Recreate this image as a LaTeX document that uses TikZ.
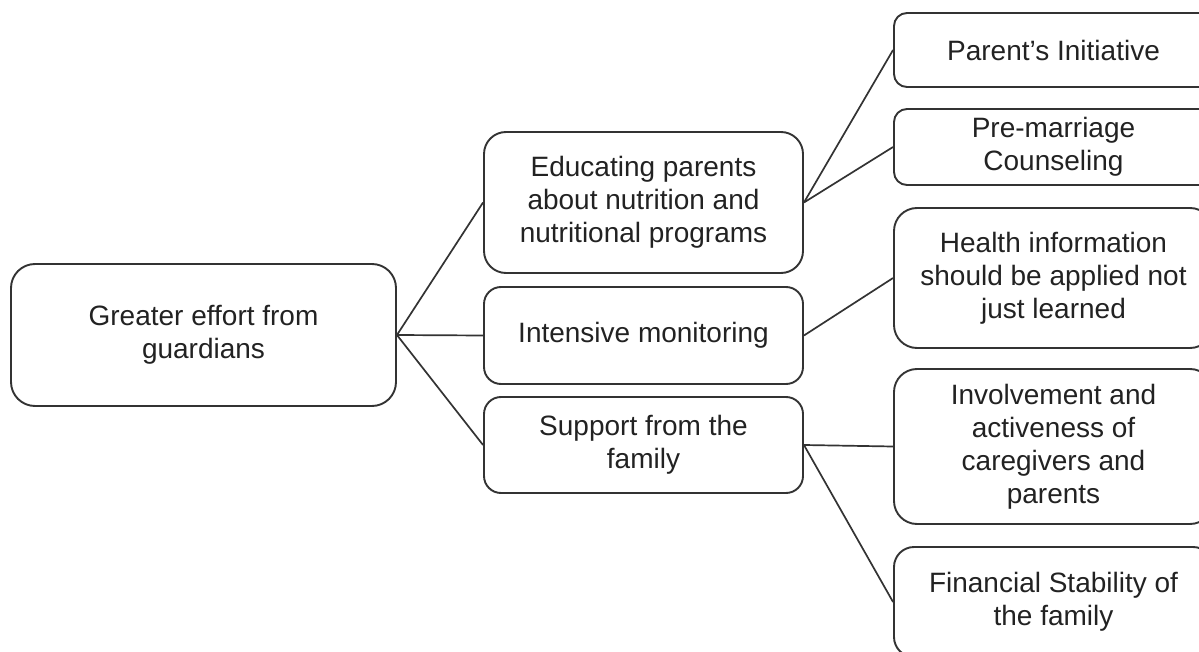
\documentclass[tikz,border=0pt]{standalone}
\usepackage{fontspec}
\setmainfont{Liberation Sans}
\definecolor{edgecol}{HTML}{333333}
\definecolor{textcol}{HTML}{222222}
\begin{document}
\begin{tikzpicture}[x=1pt,y=-1pt,
  box/.style={draw=edgecol, line width=1.9pt, align=center, inner sep=0pt,
    text=textcol, font=\fontsize{28}{33}\selectfont},
  link/.style={draw=edgecol, line width=1.7pt}]
  \useasboundingbox (0,0) rectangle (1199,652);

  % root
  \node[box, rounded corners=24pt, minimum width=385pt, minimum height=142pt]
    (root) at (203.5,335) {Greater effort from\\guardians};

  % middle column
  \node[box, rounded corners=22pt, minimum width=319pt, minimum height=141pt]
    (m1) at (643.5,202.5) {Educating parents\\about nutrition and\\nutritional programs};
  \node[box, rounded corners=17pt, minimum width=319pt, minimum height=97pt]
    (m2) at (643.5,335.5) {Intensive monitoring};
  \node[box, rounded corners=17pt, minimum width=319pt, minimum height=96pt]
    (m3) at (643.5,445) {Support from the\\family};

  % right column
  \node[box, rounded corners=13pt, minimum width=319pt, minimum height=74pt]
    (r1) at (1053.5,50) {Parent's Initiative};
  \node[box, rounded corners=13pt, minimum width=319pt, minimum height=76pt]
    (r2) at (1053.5,147) {Pre-marriage\\Counseling};
  \node[box, rounded corners=23pt, minimum width=319pt, minimum height=140pt]
    (r3) at (1053.5,278) {Health information\\should be applied not\\just learned};
  \node[box, rounded corners=23pt, minimum width=319pt, minimum height=155pt]
    (r4) at (1053.5,446.5) {Involvement and\\activeness of\\caregivers and\\parents};
  \node[box, rounded corners=20pt, minimum width=319pt, minimum height=110pt]
    (r5) at (1053.5,602) {Financial Stability of\\the family};

  % connectors
  \draw[link] (root.east) -- (m1.west);
  \draw[link] (root.east) -- (m2.west);
  \draw[link] (root.east) -- (m3.west);
  \draw[link] (m1.east) -- (r1.west);
  \draw[link] (m1.east) -- (r2.west);
  \draw[link] (m2.east) -- (r3.west);
  \draw[link] (m3.east) -- (r4.west);
  \draw[link] (m3.east) -- (r5.west);
\end{tikzpicture}
\end{document}
